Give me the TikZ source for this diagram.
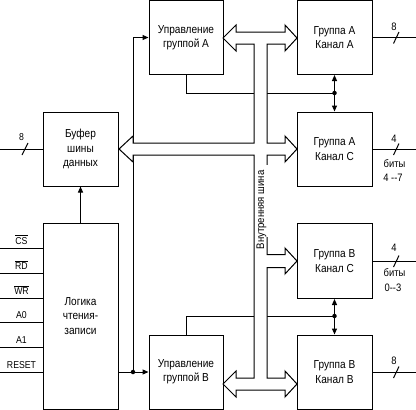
\documentclass[tikz,border=0pt]{standalone}
\usepackage{fontspec}
\setmainfont{Liberation Sans}[FakeStretch=0.87]
\usetikzlibrary{arrows.meta}
\tikzset{
  box/.style={draw, line width=1pt, align=center, inner sep=0pt,
    font=\fontsize{11.6}{14.2}\selectfont},
  wire/.style={line width=1pt},
  arr/.style={wire, -{Triangle[length=6pt,width=5pt]}},
  darr/.style={wire, {Triangle[length=6pt,width=5pt]}-{Triangle[length=6pt,width=5pt]}},
  lbl/.style={font=\fontsize{10}{11}\selectfont, inner sep=0pt},
  rlbl/.style={font=\fontsize{10.8}{12}\selectfont, inner sep=0pt},
  dot/.style={circle, fill=black, inner sep=0pt, minimum size=4.5pt},
}
\begin{document}
\begin{tikzpicture}[x=1pt,y=-1pt]
\useasboundingbox (0,0) rectangle (416,410);

% boxes
\node[box, minimum width=75pt, minimum height=74pt] (buf) at (80.5,149) {Буфер\\шины\\данных};
\node[box, minimum width=75pt, minimum height=186pt] (logic) at (80.5,316) {Логика\\чтения-\\записи};
\node[box, minimum width=74pt, minimum height=74pt] (ua) at (186,37.5) {Управление\\группой А};
\node[box, minimum width=74pt, minimum height=74pt] (ub) at (186,372) {Управление\\группой В};
\node[box, minimum width=75pt, minimum height=74pt] (kaa) at (334.5,37.5) {Группа А\\Канал А};
\node[box, minimum width=75pt, minimum height=74pt] (kca) at (334.5,149) {Группа А\\Канал С};
\node[box, minimum width=75pt, minimum height=75pt] (kcb) at (334.5,261) {Группа В\\Канал С};
\node[box, minimum width=75pt, minimum height=74pt] (kbb) at (334.5,372) {Группа В\\Канал В};

% junctions
\coordinate (j1) at (133,372);
\coordinate (jA) at (334.5,93);
\coordinate (jB) at (334.5,316);

% lines passing under the bus
\draw[arr] (j1) |- (ua.west);
\draw[wire] (ua.south) |- (jA);
\draw[wire] (ub.north) |- (jB);

% internal bus
\draw[line width=1pt, fill=white, line join=miter]
  (223,38) -- (236,25) -- (236,32) -- (285,32) -- (285,25) -- (297,38)
  -- (285,51) -- (285,44) -- (267,44) -- (267,143) -- (285,143)
  -- (285,136) -- (297,149) -- (285,162) -- (285,155) -- (267,155)
  -- (267,254.5) -- (285,254.5) -- (285,248) -- (297,261) -- (285,274)
  -- (285,267.5) -- (267,267.5) -- (267,378) -- (285,378) -- (285,371)
  -- (297,384) -- (285,397) -- (285,390) -- (236,390) -- (236,397)
  -- (223,384) -- (236,371) -- (236,378) -- (254,378) -- (254,155)
  -- (133,155) -- (133,162) -- (119,149) -- (133,136) -- (133,143)
  -- (254,143) -- (254,44) -- (236,44) -- (236,51) -- cycle;
\draw[white, line width=1.6pt] (267,165) -- (267,237);
\node[rotate=90, inner sep=0pt, font=\fontsize{11}{12}\selectfont] (bustext) at (261.5,210) {Внутренняя шина};

% logic connections
\draw[arr] (logic.north) -- (buf.south);
\draw[arr] (logic.east |- ub.west) -- (ub.west);
\node[dot] at (j1) {};

% port C handshakes
\draw[darr] (kaa.south) -- (kca.north);
\node[dot] at (jA) {};
\draw[darr] (kcb.south) -- (kbb.north);
\node[dot] at (jB) {};

% buffer data input
\coordinate (bin) at (0,149);
\draw[wire] (bin) -- (buf.west);
\draw[wire] (22,155) -- (28,143);
\node[lbl] at (21.5,137) {8};

% logic inputs
\foreach \y/\t [count=\i] in {248/{$\overline{\hbox{CS}}$}, 273/{$\overline{\hbox{RD}}$}, 298/{$\overline{\hbox{WR}}$}, 322/A0, 347/A1, 372/RESET} {
  \coordinate (in\i) at (0,\y);
  \draw[wire] (in\i) -- (logic.west |- in\i);
  \node[lbl, anchor=base] at (21.5,\y-4) {\t};
}

% outputs
\coordinate (oa) at (416,37.5);
\draw[wire] (kaa.east) -- (oa);
\draw[wire] (393.5,43.5) -- (399,32);
\node[rlbl] at (394,27) {8};

\coordinate (oca) at (416,149);
\draw[wire] (kca.east) -- (oca);
\draw[wire] (393.5,155) -- (399,143.5);
\node[rlbl] at (394,139) {4};
\node[rlbl] at (394.5,164) {биты};
\node[rlbl] at (393,178) {4 -{}-7};

\coordinate (ocb) at (416,261);
\draw[wire] (kcb.east) -- (ocb);
\draw[wire] (393.5,267) -- (399,255.5);
\node[rlbl] at (394,248) {4};
\node[rlbl] at (394.5,272.5) {биты};
\node[rlbl] at (393,288) {0-{}-3};

\coordinate (obb) at (416,372);
\draw[wire] (kbb.east) -- (obb);
\draw[wire] (393.5,378) -- (399,366.5);
\node[rlbl] at (394,361) {8};
\end{tikzpicture}
\end{document}
